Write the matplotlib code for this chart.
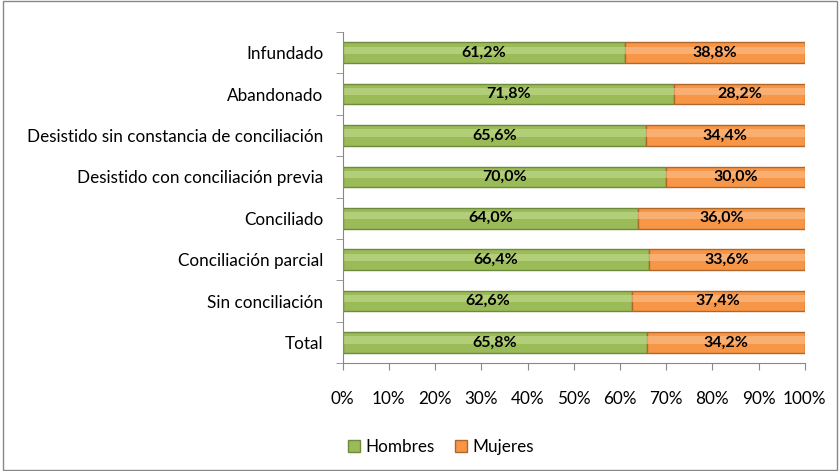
import matplotlib.pyplot as plt
from matplotlib.patches import Rectangle

categories = ["Infundado", "Abandonado", "Desistido sin constancia de conciliación",
              "Desistido con conciliación previa", "Conciliado", "Conciliación parcial",
              "Sin conciliación", "Total"]
hombres = [61.2, 71.8, 65.6, 70.0, 64.0, 66.4, 62.6, 65.8]
mujeres = [38.8, 28.2, 34.4, 30.0, 36.0, 33.6, 37.4, 34.2]

plt.rcParams['font.family'] = ['Lato', 'DejaVu Sans']

fig = plt.figure(figsize=(8.4, 4.71), dpi=100)
fig.patches.append(Rectangle((0.003, 0.003), 0.994, 0.994, transform=fig.transFigure,
                             fill=False, edgecolor='#888888', linewidth=1))
ax = fig.add_axes([0.408, 0.229, 0.55, 0.703])

y = list(range(len(categories)))
h = 0.5
green, green_edge, green_hi = '#9BBB59', '#6E8B3D', '#C3DC8E'
orange, orange_edge, orange_hi = '#F79646', '#B0682A', '#FBC08E'

ax.barh(y, hombres, height=h, color=green, edgecolor=green_edge, linewidth=1)
ax.barh(y, mujeres, left=hombres, height=h, color=orange, edgecolor=orange_edge, linewidth=1)
# bevel highlight
ax.barh([v - 0.06 for v in y], hombres, height=h * 0.35, color=green_hi, linewidth=0, alpha=0.6)
ax.barh([v - 0.06 for v in y], mujeres, left=hombres, height=h * 0.35, color=orange_hi,
        linewidth=0, alpha=0.6)

for i in y:
    ax.text(hombres[i] / 2, i, f"{hombres[i]:.1f}%".replace('.', ','), ha='center',
            va='center', fontsize=11.5, fontweight='bold')
    ax.text(hombres[i] + mujeres[i] / 2, i, f"{mujeres[i]:.1f}%".replace('.', ','),
            ha='center', va='center', fontsize=11.5, fontweight='bold')

ax.set_xlim(0, 100)
ax.set_ylim(len(categories) - 0.5, -0.5)
ax.set_yticks(y)
ax.set_yticklabels(categories, fontsize=12.3)
ax.set_yticks([v + 0.5 for v in range(-1, len(categories))], minor=True)
ax.tick_params(axis='y', which='major', length=0, pad=14)
ax.tick_params(axis='y', which='minor', length=5, color='#888888')
ax.set_xticks(range(0, 101, 10))
ax.set_xticklabels([f"{v}%" for v in range(0, 101, 10)], fontsize=12.3)
ax.tick_params(axis='x', length=5, color='#888888', pad=15)

for s in ['top', 'right']:
    ax.spines[s].set_visible(False)
for s in ['left', 'bottom']:
    ax.spines[s].set_color('#888888')

handles = [Rectangle((0, 0), 1, 1, facecolor=green, edgecolor=green_edge),
           Rectangle((0, 0), 1, 1, facecolor=orange, edgecolor=orange_edge)]
fig.legend(handles, ["Hombres", "Mujeres"], loc='center', bbox_to_anchor=(0.525, 0.051),
           ncol=2, frameon=False, fontsize=12.3, handlelength=0.7, handleheight=0.7,
           handletextpad=0.3, columnspacing=1.2)

fig.savefig("out.png", dpi=100)
plt.close()
